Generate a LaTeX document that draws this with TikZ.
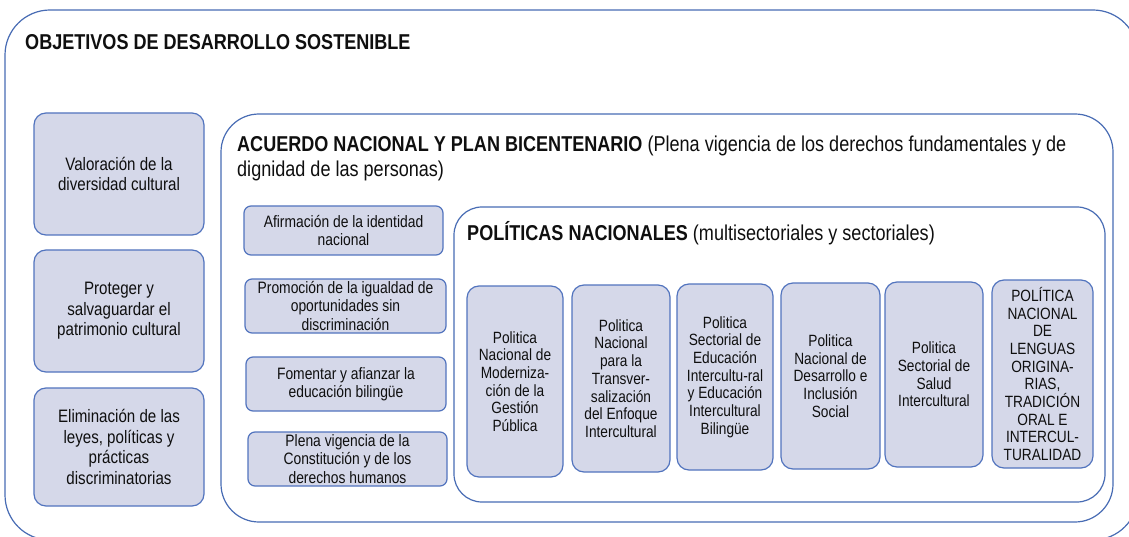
\documentclass[tikz,border=0pt]{standalone}
\usepackage{fontspec}
\setmainfont{Liberation Sans}[FakeStretch=0.84]
\definecolor{frameblue}{RGB}{72,108,180}
\definecolor{boxblue}{RGB}{82,116,190}
\definecolor{boxfill}{RGB}{213,216,233}
\definecolor{txt}{RGB}{15,15,15}
\tikzset{
  frame/.style={draw=frameblue, line width=1.2pt, fill=white, inner sep=0pt},
  sbox/.style={draw=boxblue, fill=boxfill, line width=1.2pt, inner sep=1pt, align=center, text=txt},
  lbox/.style={sbox, rounded corners=12pt, font=\fontsize{18}{20.5}\selectfont},
  mbox/.style={sbox, rounded corners=7pt, font=\fontsize{16.5}{18.3}\selectfont},
  pbox/.style={sbox, rounded corners=12pt, font=\fontsize{16.3}{17.7}\selectfont},
  head/.style={text=txt, inner sep=0pt, font=\fontsize{21.5}{25}\selectfont}
}
\begin{document}
\begin{tikzpicture}[x=1pt,y=-1pt]
\useasboundingbox (0,0) rectangle (1129,537);
\clip (0,0) rectangle (1129,537);
% containers
\node[frame, rounded corners=45pt, minimum width=1133pt, minimum height=530pt] (ods) at (571.5,275) {};
\node[frame, rounded corners=38pt, minimum width=892pt, minimum height=408pt] (acu) at (667,318) {};
\node[frame, rounded corners=28pt, minimum width=651pt, minimum height=295pt] (pol) at (779.5,354.5) {};
% headings
\node[head, anchor=west] (odst) at (25,42) {\textbf{OBJETIVOS DE DESARROLLO SOSTENIBLE}};
\node[head, anchor=north west, align=left] (acut) at (237,136) {\textbf{ACUERDO NACIONAL Y PLAN BICENTENARIO} (Plena vigencia de los derechos fundamentales y de\\dignidad de las personas)};
\node[head, anchor=west] (polt) at (467,233) {\textbf{POLÍTICAS NACIONALES} (multisectoriales y sectoriales)};
% left column
\node[lbox, minimum width=170pt, minimum height=122pt] (l1) at (119,174) {Valoración de la\\diversidad cultural};
\node[lbox, minimum width=170pt, minimum height=122pt] (l2) at (119,311) {Proteger y\\salvaguardar el\\patrimonio cultural};
\node[lbox, minimum width=170pt, minimum height=118pt] (l3) at (119,447) {Eliminación de las\\leyes, políticas y\\prácticas\\discriminatorias};
% middle column
\node[mbox, minimum width=199pt, minimum height=49pt] (m1) at (343.5,230.5) {Afirmación de la identidad\\nacional};
\node[mbox, minimum width=201pt, minimum height=54pt] (m2) at (345.5,306) {Promoción de la igualdad de\\oportunidades sin\\discriminación};
\node[mbox, minimum width=200pt, minimum height=54pt] (m3) at (346,384) {Fomentar y afianzar la\\educación bilingüe};
\node[mbox, minimum width=199pt, minimum height=54pt] (m4) at (347.5,459) {Plena vigencia de la\\Constitución y de los\\derechos humanos};
% policies
\node[pbox, minimum width=96pt, minimum height=191pt] (p1) at (515,381.5) {Politica\\Nacional de\\Moderniza-\\ción de la\\Gestión\\Pública};
\node[pbox, minimum width=98pt, minimum height=187pt] (p2) at (621,378.5) {Politica\\Nacional\\para la\\Transver-\\salización\\del Enfoque\\Intercultural};
\node[pbox, minimum width=96pt, minimum height=186pt] (p3) at (725,377) {Politica\\Sectorial de\\Educación\\Intercultu-ral\\y Educación\\Intercultural\\Bilingüe};
\node[pbox, minimum width=99pt, minimum height=186pt] (p4) at (830.5,376) {Politica\\Nacional de\\Desarrollo e\\Inclusión\\Social};
\node[pbox, minimum width=98pt, minimum height=185pt] (p5) at (934,374.5) {Politica\\Sectorial de\\Salud\\Intercultural};
\node[pbox, minimum width=101pt, minimum height=188pt] (p6) at (1042.5,374) {POLÍTICA\\NACIONAL\\DE\\LENGUAS\\ORIGINA-\\RIAS,\\TRADICIÓN\\ORAL E\\INTERCUL-\\TURALIDAD};
\end{tikzpicture}
\end{document}
